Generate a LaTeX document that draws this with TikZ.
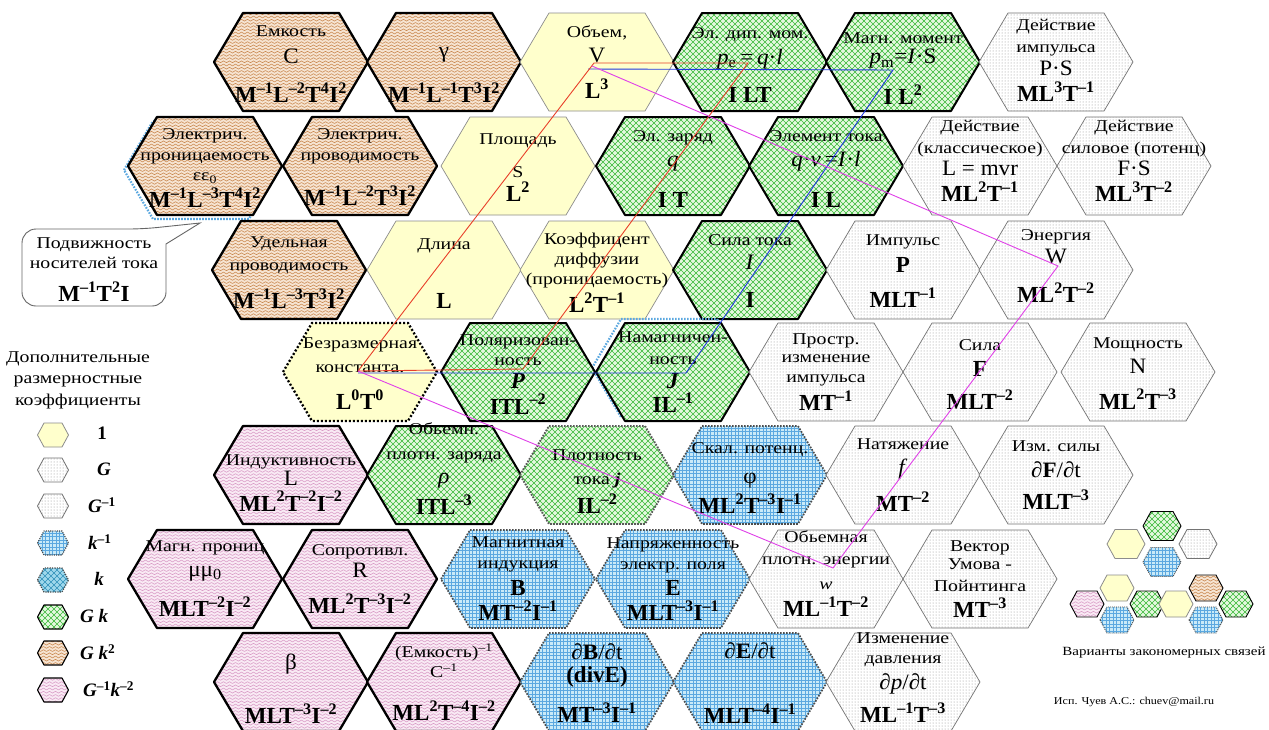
\documentclass[tikz,border=0pt]{standalone}
\usepackage{fontspec}
\setmainfont{Liberation Serif}
\usetikzlibrary{patterns}
\definecolor{yel}{HTML}{FFFFCC}
\definecolor{brbase}{HTML}{F6E4D2}
\definecolor{brline}{HTML}{C98850}
\definecolor{pkbase}{HTML}{F9EAF4}
\definecolor{pkline}{HTML}{D99CC6}
\definecolor{gnbase}{HTML}{E4F8DE}
\definecolor{gnline}{HTML}{38B838}
\definecolor{blbase}{HTML}{C9EAF8}
\definecolor{blline}{HTML}{5BA8E0}
\definecolor{kbase}{HTML}{9FD8EC}
\definecolor{kline}{HTML}{2E8FB8}
\definecolor{gyline}{HTML}{8C8C8C}
\definecolor{redl}{HTML}{E8402A}
\definecolor{bluel}{HTML}{2038E0}
\definecolor{magl}{HTML}{E040E8}
\pgfdeclarepatternformonly{wavy}{\pgfpoint{-0.5pt}{-0.5pt}}{\pgfpoint{6.5pt}{3.5pt}}{\pgfpoint{6pt}{3.2pt}}{%
  \pgfsetdash{}{0pt}\pgfsetlinewidth{0.55pt}%
  \pgfpathmoveto{\pgfpoint{0pt}{1.6pt}}%
  \pgfpathcurveto{\pgfpoint{1pt}{2.8pt}}{\pgfpoint{2pt}{2.8pt}}{\pgfpoint{3pt}{1.6pt}}%
  \pgfpathcurveto{\pgfpoint{4pt}{0.4pt}}{\pgfpoint{5pt}{0.4pt}}{\pgfpoint{6pt}{1.6pt}}%
  \pgfusepath{stroke}}
\pgfdeclarepatternformonly{xhatch}{\pgfpoint{-0.5pt}{-0.5pt}}{\pgfpoint{6.5pt}{6.5pt}}{\pgfpoint{6pt}{6pt}}{%
  \pgfsetdash{}{0pt}\pgfsetlinewidth{0.65pt}%
  \pgfpathmoveto{\pgfpoint{0pt}{0pt}}\pgfpathlineto{\pgfpoint{6pt}{6pt}}%
  \pgfpathmoveto{\pgfpoint{0pt}{6pt}}\pgfpathlineto{\pgfpoint{6pt}{0pt}}%
  \pgfusepath{stroke}}
\pgfdeclarepatternformonly{fgrid}{\pgfpoint{-0.5pt}{-0.5pt}}{\pgfpoint{4pt}{4pt}}{\pgfpoint{3.5pt}{3.5pt}}{%
  \pgfsetdash{}{0pt}\pgfsetlinewidth{0.4pt}%
  \pgfpathmoveto{\pgfpoint{0pt}{0pt}}\pgfpathlineto{\pgfpoint{3.5pt}{0pt}}%
  \pgfpathmoveto{\pgfpoint{0pt}{0pt}}\pgfpathlineto{\pgfpoint{0pt}{3.5pt}}%
  \pgfusepath{stroke}}
\pgfdeclarepatternformonly{fdots}{\pgfpoint{-1pt}{-1pt}}{\pgfpoint{1pt}{1pt}}{\pgfpoint{3pt}{3pt}}{%
  \pgfpathcircle{\pgfpointorigin}{0.5pt}\pgfusepath{fill}}
\newcommand\pw[1]{\textsuperscript{#1}}
\newcommand\lb[1]{\scalebox{1.2}[1]{\fontsize{16.5}{18}\selectfont #1}}
\newcommand\sy[1]{\scalebox{1.05}[1]{\fontsize{22}{24}\selectfont #1}}
\newcommand\fm[1]{{\fontsize{23}{24}\selectfont\bfseries #1}}
% hexagon + its text node: [yshift]{name}{x}{y}{style}{text}
\newcommand\hx[6][0]{%
  \path[#5] (#3-77,#4) -- (#3-48,#4-49) -- (#3+48,#4-49) -- (#3+77,#4) -- (#3+48,#4+49) -- (#3-48,#4+49) -- cycle;
  \node[txt, yshift=#1pt] (#2) at (#3,#4) {#6};}
% small hexagon: {name}{x}{y}{style}
\newcommand\shx[4]{%
  \path[#4] (#2-15.5,#3) -- (#2-9,#3-12) -- (#2+9,#3-12) -- (#2+15.5,#3) -- (#2+9,#3+12) -- (#2-9,#3+12) -- cycle;
  \coordinate (#1) at (#2,#3);}
% cluster hexagon: {name}{x}{y}{style}{half width}{top half}{half height}
\newcommand\chx[7]{%
  \path[#4] (#2-#5,#3) -- (#2-#6,#3-#7) -- (#2+#6,#3-#7) -- (#2+#5,#3) -- (#2+#6,#3+#7) -- (#2-#6,#3+#7) -- cycle;
  \coordinate (#1) at (#2,#3);}
\begin{document}
\begin{tikzpicture}[x=1pt,y=-1pt,
  txt/.style={align=center, inner sep=0pt, font=\fontsize{16.5}{18}\selectfont},
  hexbrown/.style={preaction={fill=brbase}, pattern=wavy, pattern color=brline, draw=black, line width=2.3pt, line join=round},
  hexpink/.style={preaction={fill=pkbase}, pattern=wavy, pattern color=pkline, draw=black, line width=2.3pt, line join=round},
  hexgreen/.style={preaction={fill=gnbase}, pattern=xhatch, pattern color=gnline, draw=black, line width=2pt, line join=round},
  hexgreendot/.style={preaction={fill=gnbase}, pattern=xhatch, pattern color=gnline, draw=black!65, line width=1.9pt, dash pattern=on 1.6pt off 1.4pt},
  hexblue/.style={preaction={fill=blbase}, pattern=fgrid, pattern color=blline, draw=black!70, line width=1.7pt, dash pattern=on 1.6pt off 1.4pt},
  hexk/.style={preaction={fill=kbase}, pattern=xhatch, pattern color=kline, draw=black!70, line width=1.2pt, dash pattern=on 1.2pt off 1.2pt},
  hexgray/.style={preaction={fill=white}, pattern=fdots, pattern color=gyline, draw=black!55, line width=0.7pt},
  hexyel/.style={fill=yel, draw=black!45, line width=0.7pt},
  hexbz/.style={fill=yel, draw=black, line width=2.3pt, dash pattern=on 2pt off 2pt},
  shadowblue/.style={draw=blline, line width=2.2pt, dash pattern=on 1.6pt off 1.4pt},
  conn/.style={line width=0.9pt},
  plain/.style={align=center, inner sep=0pt}]
\useasboundingbox (0,0) rectangle (1269,729);
\clip (0,0) rectangle (1269,729);
\fill[white] (0,0) rectangle (1269,729);

% ---------- row 1
\hx[-2]{emk}{291}{62}{hexbrown}{\lb{Емкость}\\[8.5pt]\sy{C}\\[18pt]\fm{M\pw{–1}L\pw{–2}T\pw{4}I\pw{2}}}
\hx[-13]{gam}{444}{62}{hexbrown}{\sy{γ}\\[19pt]\fm{M\pw{–1}L\pw{–1}T\pw{3}I\pw{2}}}
\hx{vol}{597}{62}{hexyel}{\lb{Объем,}\\[6.5pt]\sy{V}\\[15pt]\fm{L\pw{3}}}
\hx[-3]{pe}{750}{62}{hexgreen}{\lb{Эл. дип. мом.}\\[6.5pt]\sy{\textit{p}\textsubscript{e}\,=\,\textit{q}·\textit{l}}\\[18pt]\fm{I LT}}
\hx[-6.5]{pm}{903}{62}{hexgreen}{\lb{Магн. момент}\\[2.5pt]\sy{\textit{p}\textsubscript{m}=\textit{I}·S}\\[15pt]\fm{I L\pw{2}}}
\hx[1.5]{dimp}{1056}{62}{hexgray}{\lb{Действие}\\[4pt]\lb{импульса}\\[3.5pt]\sy{P·S}\\[5pt]\fm{ML\pw{3}T\pw{–1}}}

% ---------- row 2
\draw[shadowblue] (205-81,170) -- (205-52,170-49) -- (205+44,170-49) -- (205+73,170) -- (205+44,170+49) -- (205-52,170+49) -- cycle;
\hx[-2]{eps}{205}{166}{hexbrown}{\lb{Электрич.}\\[3pt]\lb{проницаемость}\\[2pt]\lb{εε\textsubscript{0}}\\[3.5pt]\fm{M\pw{–1}L\pw{–3}T\pw{4}I\pw{2}}}
\hx[-1]{sig}{360}{166}{hexbrown}{\lb{Электрич.}\\[3pt]\lb{проводимость}\\[21.5pt]\fm{M\pw{–1}L\pw{–2}T\pw{3}I\pw{2}}}
\hx[-2]{area}{518}{166}{hexyel}{\lb{Площадь}\\[15pt]\lb{S}\\[3pt]\fm{L\pw{2}}}
\hx[-3]{q}{673}{166}{hexgreen}{\lb{Эл. заряд}\\[6.5pt]\sy{\textit{q}}\\[20pt]\fm{I T}}
\hx[-3]{ql}{826}{166}{hexgreen}{\lb{Элемент тока}\\[6.5pt]\sy{\textit{q}·\textit{v}\,=\textit{I}·\textit{l}}\\[20pt]\fm{I L}}
\hx[5]{dcl}{980}{166}{hexgray}{\lb{Действие}\\[4pt]\lb{(классическое)}\\[3.5pt]\sy{L = mvr}\\[5pt]\fm{ML\pw{2}T\pw{–1}}}
\hx[5]{dsil}{1134}{166}{hexgray}{\lb{Действие}\\[4pt]\lb{силовое (потенц)}\\[3.5pt]\sy{F·S}\\[5pt]\fm{ML\pw{3}T\pw{–2}}}

% ---------- row 3
\hx[-2.5]{ud}{289}{270}{hexbrown}{\lb{Удельная}\\[5pt]\lb{проводимость}\\[14.5pt]\fm{M\pw{–1}L\pw{–3}T\pw{3}I\pw{2}}}
\hx[-3.5]{len}{444}{270}{hexyel}{\lb{Длина}\\[39.5pt]\fm{L}}
\hx[-2.5]{diff}{597}{270}{hexyel}{\lb{Коэффицент}\\[2pt]\lb{диффузии}\\[2pt]\lb{(проницаемость)}\\[3.5pt]\fm{L\pw{2}T\pw{–1}}}
\hx[-1]{cur}{750}{270}{hexgreen}{\lb{Сила тока}\\[6.5pt]\sy{\textit{I}}\\[20pt]\fm{I}}
\hx[-1]{imp}{903}{270}{hexgray}{\lb{Импульс}\\[7.5pt]\fm{P}\\[15pt]\fm{MLT\pw{–1}}}
\hx[4]{en}{1056}{270}{hexgray}{\lb{Энергия}\\[4.5pt]\sy{W}\\[18pt]\fm{ML\pw{2}T\pw{–2}}}

% ---------- row 4
\draw[shadowblue] (673-81,368) -- (673-52,368-49) -- (673+44,368-49) -- (673+73,368) -- (673+44,368+49) -- (673-52,368+49) -- cycle;
\hx[-1.5]{bz}{360}{372}{hexbz}{\lb{Безразмерная}\\[5.5pt]\lb{константа.}\\[16pt]\fm{L\pw{0}T\pw{0}}}
\hx[-2.5]{pol}{518}{372}{hexgreen}{\lb{Поляризован-}\\[2pt]\lb{ность}\\[4.5pt]\fm{\textit{P}}\\[5pt]\fm{ITL\pw{–2}}}
\hx{mag}{673}{372}{hexgreen}{\lb{Намагничен-}\\[4pt]\lb{ность}\\[5.5pt]\fm{\textit{J}}\\[3pt]\fm{IL\pw{–1}}}
\hx{prostr}{826}{372}{hexgray}{\lb{Простр.}\\[0pt]\lb{изменение}\\[2pt]\lb{импульса}\\[4.5pt]\fm{MT\pw{–1}}}
\hx[-2.5]{sila}{980}{372}{hexgray}{\lb{Сила}\\[7.5pt]\fm{F}\\[12pt]\fm{MLT\pw{–2}}}
\hx[-1.5]{mosch}{1138}{372}{hexgray}{\lb{Мощность}\\[6.5pt]\sy{N}\\[15pt]\fm{ML\pw{2}T\pw{–3}}}

% ---------- row 5
\hx[-8]{ind}{291}{475}{hexpink}{\lb{Индуктивность}\\[1.5pt]\sy{L}\\[5pt]\fm{ML\pw{2}T\pw{–2}I\pw{–2}}}
\hx[6]{rho}{444}{475}{hexgreen}{\lb{Обьемн.}\\[7pt]\lb{плотн. заряда}\\[5.5pt]\sy{\textit{ρ}}\\[6pt]\fm{ITL\pw{–3}}}
\hx[-6.5]{jj}{597}{475}{hexgreendot}{\lb{Плотность}\\[6pt]\lb{тока \textbf{\textit{j}}}\\[5.5pt]\fm{IL\pw{–2}}}
\hx[-3]{phi}{750}{475}{hexblue}{\lb{Скал. потенц.}\\[11.5pt]\sy{φ}\\[5pt]\fm{ML\pw{2}T\pw{–3}I\pw{–1}}}
\hx{nat}{903}{475}{hexgray}{\lb{Натяжение}\\[7.5pt]\sy{\textit{f}}\\[11pt]\fm{MT\pw{–2}}}
\hx{izm}{1056}{475}{hexgray}{\lb{Изм. силы}\\[7.5pt]\sy{∂\textbf{F}/∂t}\\[11pt]\fm{MLT\pw{–3}}}

% ---------- row 6
\hx{mu}{205}{579}{hexpink}{\lb{Магн. прониц}\\[6.5pt]\sy{μμ\textsubscript{0}}\\[15pt]\fm{MLT\pw{–2}I\pw{–2}}}
\hx{res}{360}{579}{hexpink}{\lb{Сопротивл.}\\[4.5pt]\sy{R}\\[15pt]\fm{ML\pw{2}T\pw{–3}I\pw{–2}}}
\hx{bb}{518}{579}{hexblue}{\lb{Магнитная}\\[3pt]\lb{индукция}\\[6.5pt]\fm{B}\\[5pt]\fm{MT\pw{–2}I\pw{–1}}}
\hx{ee}{673}{579}{hexblue}{\lb{Напряженность}\\[3pt]\lb{электр. поля}\\[6.5pt]\fm{E}\\[5pt]\fm{MLT\pw{–3}I\pw{–1}}}
\hx[5.5]{wden}{826}{579}{hexgray}{\lb{Обьемная}\\[4pt]\lb{плотн. энергии}\\[7pt]\lb{\textit{w}}\\[6.5pt]\fm{ML\pw{–1}T\pw{–2}}}
\hx{umov}{980}{579}{hexgray}{\lb{Вектор}\\[0pt]\lb{Умова -}\\[4pt]\lb{Пойнтинга}\\[5.5pt]\fm{MT\pw{–3}}}

% ---------- row 7
\hx[-7]{beta}{291}{682}{hexpink}{\sy{β}\\[29pt]\fm{MLT\pw{–3}I\pw{–2}}}
\hx{cinv}{444}{682}{hexpink}{\lb{(Емкость)\pw{–1}}\\[2pt]\lb{C\pw{–1}}\\[21.5pt]\fm{ML\pw{2}T\pw{–4}I\pw{–2}}}
\hx[-1]{dbdt}{597}{682}{hexblue}{\sy{∂\textbf{B}/∂t}\\[5pt]\fm{(divE)}\\[15pt]\fm{MT\pw{–3}I\pw{–1}}}
\hx[-1]{dedt}{750}{682}{hexblue}{\sy{∂\textbf{E}/∂t}\\[44pt]\fm{MLT\pw{–4}I\pw{–1}}}
\hx[4.5]{dpdt}{903}{682}{hexgray}{\lb{Изменение}\\[2pt]\lb{давления}\\[5.5pt]\sy{∂\textit{p}/∂t}\\[8pt]\fm{ML\pw{–1}T\pw{–3}}}

% ---------- connecting parallelograms
\coordinate (rV) at (594,63);  \coordinate (bV) at (588,69);  \coordinate (mV) at (592,66);
\coordinate (rPe) at (748,63); \coordinate (bPm) at (893,70);
\coordinate (rP) at (523,369); \coordinate (bJ) at (686,373);
\coordinate (rBz) at (358,371); \coordinate (bBz) at (358,373);
\coordinate (mW) at (1058,266); \coordinate (mw) at (833,568);
\draw[conn, bluel] (bV) -- (bPm) -- (bJ) -- (bBz);
\draw[conn, redl] (rV) -- (rPe) -- (rP) -- (rBz) -- cycle;
\draw[conn, magl] (mV) -- (mW) -- (mw) -- (rBz);

% ---------- callout
\draw[black!60, fill=white, line width=0.9pt] (22,268) [rounded corners=14pt] -- (22,229) -- (143,229) [sharp corners] -- (200,223) -- (166,244) [rounded corners=14pt] -- (166,306) -- (22,306) -- cycle;
\node[plain, font=\fontsize{16.5}{18}\selectfont, yshift=-2.5pt] (mob) at (94,267) {\lb{Подвижность}\\[2pt]\lb{носителей тока}\\[11.5pt]\fm{M\pw{–1}T\pw{2}I}};

% ---------- legend
\node[plain, font=\fontsize{16.5}{21.5}\selectfont] (legt) at (78,380) {\lb{Дополнительные}\\\lb{размерностные}\\\lb{коэффициенты}};
\shx{l1}{53}{435}{hexyel, line width=0.8pt}
\shx{l2}{53}{470}{hexgray, line width=0.8pt}
\shx{l3}{53}{506}{hexgray, line width=0.8pt}
\shx{l4}{53}{543}{hexblue, line width=1.1pt, dash pattern=on 1.1pt off 1.1pt}
\shx{l5}{53}{580}{hexk}
\shx{l6}{53}{617}{hexgreen, line width=1.1pt}
\shx{l7}{53}{653}{hexbrown, line width=1.1pt}
\shx{l8}{53}{690}{hexpink, line width=1.1pt}
\begin{scope}[every node/.style={plain, font=\fontsize{19}{22}\selectfont\bfseries}]
\node (t1) at (102,433) {1};
\node (t2) at (104,469) {\textit{G}};
\node[anchor=west] (t3) at (88,505) {\textit{G}\pw{–1}};
\node[anchor=west] (t4) at (88,542) {\textit{k}\pw{–1}};
\node (t5) at (99,579) {\textit{k}};
\node[anchor=west] (t6) at (80,616) {\textit{G k}};
\node[anchor=west] (t7) at (80,652) {\textit{G k}\pw{2}};
\node[anchor=west] (t8) at (83,689) {\textit{G}\pw{–1}\textit{k}\pw{–2}};
\end{scope}

% ---------- variant clusters
\chx{c1a}{1162}{526}{hexgreen, line width=0.9pt}{19}{11}{14.5}
\chx{c1b}{1126}{544}{hexyel, line width=0.8pt}{19}{11}{14.5}
\chx{c1c}{1198}{544}{hexgray, line width=0.8pt}{19}{11}{14.5}
\chx{c1d}{1162}{562}{hexblue, line width=0.9pt, dash pattern=on 1pt off 1pt}{19}{11}{14.5}
\chx{c2a}{1117}{588}{hexyel, line width=0.8pt}{17}{10}{13}
\chx{c2b}{1087}{604}{hexpink, line width=0.9pt}{17}{10}{13}
\chx{c2c}{1147}{604}{hexgreen, line width=0.9pt}{17}{10}{13}
\chx{c2d}{1117}{620}{hexblue, line width=0.9pt, dash pattern=on 1pt off 1pt}{17}{10}{13}
\chx{c3a}{1206}{588}{hexbrown, line width=0.9pt}{17}{10}{13}
\chx{c3b}{1176}{604}{hexyel, line width=0.8pt}{17}{10}{13}
\chx{c3c}{1236}{604}{hexgreen, line width=0.9pt}{17}{10}{13}
\chx{c3d}{1206}{620}{hexblue, line width=0.9pt, dash pattern=on 1pt off 1pt}{17}{10}{13}
\node[plain] (var) at (1164,653) {\scalebox{1.2}[1]{\fontsize{12.5}{15}\selectfont Варианты закономерных связей}};
\node[plain] (auth) at (1134,702) {\scalebox{1.15}[1]{\fontsize{10.5}{13}\selectfont Исп. Чуев А.С.: chuev@mail.ru}};
\end{tikzpicture}
\end{document}
